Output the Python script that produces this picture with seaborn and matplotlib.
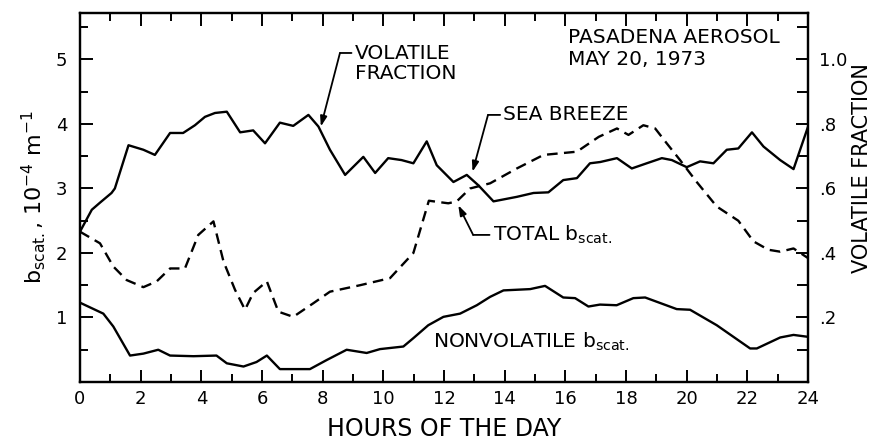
import matplotlib
matplotlib.use('Agg')
import matplotlib.pyplot as plt
import seaborn as sns
from matplotlib.ticker import MultipleLocator, FixedLocator, FixedFormatter

# hours of the day and values
vol_hours = [0.0, 0.39, 0.66, 1.04, 1.15, 1.6, 2.09, 2.47, 2.97, 3.4, 3.79, 4.12, 4.45, 4.84,
             5.28, 5.71, 6.1, 6.59, 7.03, 7.53, 7.86, 8.24, 8.74, 9.34, 9.73, 10.16, 10.6,
             10.99, 11.43, 11.76, 12.31, 12.75, 13.13, 13.63, 14.4, 14.95, 15.44, 15.93,
             16.38, 16.81, 17.15, 17.7, 18.19, 18.68, 19.18, 19.51, 20.0, 20.44, 20.88,
             21.32, 21.7, 22.15, 22.53, 23.08, 23.52, 24.0]
vol_fraction = [0.466, 0.534, 0.556, 0.586, 0.600, 0.734, 0.720, 0.704, 0.772, 0.772, 0.796,
                0.822, 0.834, 0.838, 0.774, 0.780, 0.740, 0.804, 0.794, 0.828, 0.792, 0.720,
                0.642, 0.698, 0.648, 0.694, 0.688, 0.678, 0.746, 0.672, 0.620, 0.642, 0.610,
                0.560, 0.574, 0.586, 0.588, 0.626, 0.632, 0.678, 0.682, 0.694, 0.662, 0.678,
                0.694, 0.688, 0.666, 0.684, 0.678, 0.720, 0.724, 0.774, 0.730, 0.688, 0.660,
                0.792]

total_hours = [0.0, 0.66, 1.1, 1.54, 2.09, 2.53, 2.97, 3.46, 3.9, 4.4, 4.73, 5.11, 5.44, 5.71,
               6.16, 6.54, 7.03, 7.69, 8.24, 9.23, 10.22, 10.99, 11.5, 12.14, 12.42, 12.86,
               13.52, 14.4, 15.28, 16.38, 17.1, 17.7, 18.08, 18.57, 18.96, 19.34, 19.78,
               20.33, 20.99, 21.7, 22.2, 22.69, 23.08, 23.52, 24.0]
total_bscat = [2.33, 2.15, 1.79, 1.58, 1.47, 1.56, 1.76, 1.76, 2.28, 2.49, 1.87, 1.43, 1.12,
               1.38, 1.56, 1.09, 1.01, 1.22, 1.40, 1.50, 1.61, 2.00, 2.81, 2.77, 2.80, 3.00,
               3.08, 3.31, 3.52, 3.57, 3.80, 3.93, 3.83, 3.98, 3.93, 3.70, 3.44, 3.10, 2.72,
               2.50, 2.18, 2.05, 2.02, 2.07, 1.92]

nonvol_hours = [0.0, 0.77, 1.1, 1.65, 2.09, 2.58, 2.97, 3.74, 4.5, 4.84, 5.39, 5.82, 6.16,
                6.59, 7.58, 8.13, 8.79, 9.45, 9.89, 10.66, 10.99, 11.48, 11.98, 12.53, 13.08,
                13.52, 13.96, 14.84, 15.33, 15.93, 16.32, 16.76, 17.14, 17.69, 18.24, 18.63,
                19.67, 20.11, 20.99, 22.09, 22.31, 23.08, 23.52, 24.0]
nonvol_bscat = [1.23, 1.06, 0.86, 0.41, 0.44, 0.50, 0.41, 0.40, 0.41, 0.29, 0.24, 0.31, 0.41,
                0.20, 0.20, 0.34, 0.50, 0.45, 0.51, 0.55, 0.68, 0.88, 1.01, 1.06, 1.19, 1.32,
                1.42, 1.44, 1.49, 1.31, 1.30, 1.17, 1.20, 1.19, 1.30, 1.31, 1.13, 1.12, 0.88,
                0.52, 0.52, 0.69, 0.73, 0.70]

hour_ticks = list(range(0, 25, 2))
bscat_ticks = [1, 2, 3, 4, 5]
frac_ticks = [0.2, 0.4, 0.6, 0.8, 1.0]
frac_labels = ['.2', '.4', '.6', '.8', '1.0']

sns.set_style('ticks')
plt.rcParams['font.family'] = ['DejaVu Sans']
plt.rcParams['mathtext.default'] = 'regular'
for key in ['text.color', 'axes.labelcolor', 'xtick.color', 'ytick.color', 'axes.edgecolor']:
    plt.rcParams[key] = 'black'

fig = plt.figure(figsize=(8.72, 4.4), dpi=100)
ax = fig.add_axes([0.0917, 0.1318, 0.835, 0.8387])
ax2 = ax.twinx()

lw = 1.7
sns.lineplot(x=total_hours, y=total_bscat, ax=ax, color='black', lw=lw, sort=False,
             linestyle=(0, (4.5, 2.7)))
sns.lineplot(x=nonvol_hours, y=nonvol_bscat, ax=ax, color='black', lw=lw, sort=False)
sns.lineplot(x=vol_hours, y=vol_fraction, ax=ax2, color='black', lw=lw, sort=False)

ax.set_xlim(0, 24)
ax.set_ylim(0, 5.72)
ax2.set_ylim(0, 5.72 / 5)

ax.xaxis.set_major_locator(FixedLocator(hour_ticks))
ax.xaxis.set_minor_locator(MultipleLocator(1))
ax.yaxis.set_major_locator(FixedLocator(bscat_ticks))
ax.yaxis.set_minor_locator(MultipleLocator(0.5))
ax2.yaxis.set_major_locator(FixedLocator(frac_ticks))
ax2.yaxis.set_major_formatter(FixedFormatter(frac_labels))
ax2.yaxis.set_minor_locator(MultipleLocator(0.1))

ax.tick_params(which='both', direction='in', top=True, right=False, width=1.4,
               labelsize=13)
ax.tick_params(which='major', length=9)
ax.tick_params(which='minor', length=6)
ax.tick_params(axis='y', pad=9)
ax.tick_params(axis='x', pad=6)
ax2.tick_params(which='both', direction='in', width=1.4, labelsize=13, pad=8)
ax2.tick_params(which='major', length=9)
ax2.tick_params(which='minor', length=8)

for a in (ax, ax2):
    for s in a.spines.values():
        s.set_linewidth(1.6)
        s.set_visible(True)

ax.set_xlabel('HOURS OF THE DAY', fontsize=17, labelpad=6)
ax.set_ylabel(r'b$_{scat.}$, 10$^{-4}$ m$^{-1}$', fontsize=16, labelpad=6)
ax2.set_ylabel('VOLATILE FRACTION', fontsize=15)
ax2.yaxis.set_label_coords(1.06, 0.58)

# annotations
tfs = 14.5
ax.text(16.09, 5.17, 'PASADENA AEROSOL\nMAY 20, 1973', fontsize=tfs, ha='left',
        va='center', linespacing=1.15)
ax.text(9.07, 4.94, 'VOLATILE\nFRACTION', fontsize=tfs, ha='left', va='center',
        linespacing=1.1)
ax.text(13.95, 4.14, 'SEA BREEZE', fontsize=tfs, ha='left', va='center')
ax.text(13.62, 2.28, r'TOTAL b$_{scat.}$', fontsize=tfs, ha='left', va='center')
ax.text(11.64, 0.62, r'NONVOLATILE b$_{scat.}$', fontsize=tfs, ha='left', va='center')

leaders = [
    ((8.57, 5.10), (8.95, 5.10), (7.94, 3.96)),
    ((13.45, 4.14), (13.85, 4.14), (12.94, 3.26)),
    ((12.96, 2.28), (13.5, 2.28), (12.47, 2.74)),
]
for corner, hook_end, tip in leaders:
    ax.annotate('', xy=hook_end, xytext=corner,
                arrowprops=dict(arrowstyle='-', lw=1.3, color='black',
                                shrinkA=0, shrinkB=0))
    ax.annotate('', xy=tip, xytext=corner,
                arrowprops=dict(arrowstyle='-|>,head_length=0.6,head_width=0.2',
                                lw=1.3, color='black', shrinkA=0, shrinkB=0))

fig.savefig('out.png', dpi=100)
